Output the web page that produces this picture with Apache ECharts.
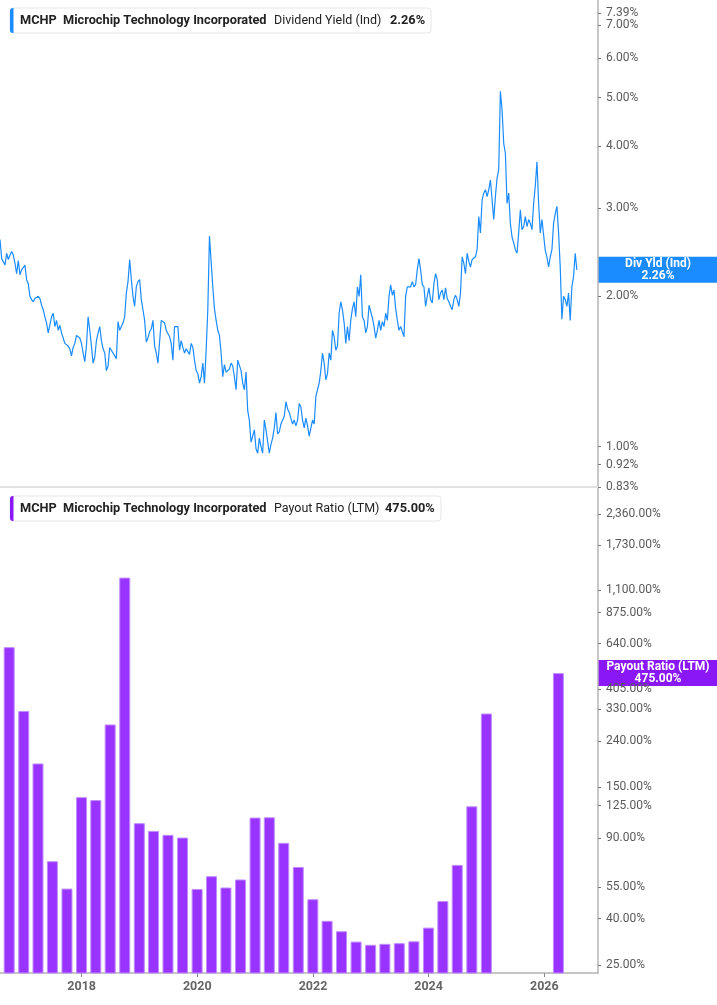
<!DOCTYPE html>
<html>
<head>
<meta charset="utf-8">
<script src="https://cdn.jsdelivr.net/npm/echarts@6/dist/echarts.min.js"></script>
<style>html,body{margin:0;padding:0;background:#fff}#chart{width:717px;height:1005px}</style>
</head>
<body>
<div id="chart"></div>
<script>
// dividend yield (%), one reading every 10.5 days from the start date
var yieldStart = '2016-08-03';
var yieldStepDays = 10.5;
var yieldValues = [
  2.60, 2.38, 2.37, 2.31, 2.44, 2.37, 2.42, 2.46, 2.42, 2.33,
  2.22, 2.36, 2.21, 2.26, 2.24, 2.31, 2.16, 2.12, 2.00, 1.97,
  1.95, 1.98, 1.97, 2.00, 1.98, 1.92, 1.88, 1.82, 1.77, 1.69,
  1.69, 1.82, 1.85, 1.74, 1.79, 1.71, 1.75, 1.69, 1.65, 1.61,
  1.62, 1.59, 1.57, 1.52, 1.58, 1.61, 1.67, 1.67, 1.65, 1.61,
  1.54, 1.48, 1.59, 1.82, 1.71, 1.59, 1.47, 1.51, 1.63, 1.69,
  1.74, 1.63, 1.57, 1.54, 1.42, 1.45, 1.58, 1.56, 1.56, 1.52,
  1.50, 1.78, 1.71, 1.74, 1.77, 1.82, 2.03, 2.14, 2.37, 2.16,
  2.00, 1.91, 2.09, 2.14, 2.16, 1.97, 1.88, 1.79, 1.62, 1.65,
  1.70, 1.72, 1.79, 1.59, 1.54, 1.47, 1.46, 1.79, 1.79, 1.77,
  1.71, 1.71, 1.66, 1.61, 1.49, 1.74, 1.73, 1.74, 1.56, 1.63,
  1.58, 1.54, 1.57, 1.55, 1.53, 1.61, 1.58, 1.49, 1.42, 1.40,
  1.34, 1.38, 1.47, 1.34, 1.56, 1.88, 2.64, 2.35, 2.09, 1.89,
  1.79, 1.71, 1.67, 1.54, 1.38, 1.46, 1.41, 1.40, 1.43, 1.47,
  1.45, 1.38, 1.30, 1.49, 1.50, 1.42, 1.34, 1.30, 1.41, 1.18,
  1.13, 1.02, 1.05, 1.08, 0.99, 0.97, 1.04, 1.00, 0.97, 1.13,
  1.08, 1.08, 0.97, 1.01, 1.04, 1.09, 1.17, 1.06, 1.07, 1.11,
  1.13, 1.15, 1.23, 1.19, 1.17, 1.18, 1.11, 1.13, 1.10, 1.13,
  1.22, 1.20, 1.13, 1.09, 1.14, 1.10, 1.05, 1.05, 1.13, 1.11,
  1.26, 1.30, 1.34, 1.42, 1.54, 1.47, 1.36, 1.40, 1.54, 1.49,
  1.71, 1.66, 1.56, 1.59, 1.85, 1.95, 1.88, 1.77, 1.61, 1.74,
  1.63, 1.79, 1.89, 1.95, 1.82, 2.09, 2.00, 2.21, 1.82, 1.79,
  1.69, 1.74, 1.92, 1.91, 1.81, 1.74, 1.65, 1.71, 1.79, 1.71,
  1.78, 1.74, 1.85, 1.79, 2.00, 2.11, 2.01, 2.06, 1.89, 1.79,
  1.71, 1.74, 1.70, 1.66, 2.00, 2.09, 2.09, 2.09, 2.14, 2.09,
  2.11, 2.26, 2.38, 2.26, 2.11, 2.09, 1.91, 2.00, 2.08, 1.97,
  1.94, 2.12, 2.22, 2.16, 1.97, 2.03, 2.06, 1.97, 2.08, 1.98,
  1.95, 1.91, 1.88, 1.97, 2.01, 1.97, 1.91, 2.03, 2.40, 2.33,
  2.22, 2.44, 2.35, 2.29, 2.37, 2.35, 2.40, 2.48, 2.89, 2.68,
  3.12, 3.22, 3.27, 3.17, 3.27, 3.42, 3.45, 2.85, 3.17, 3.45,
  3.59, 5.15, 4.73, 4.05, 3.87, 3.07, 3.22, 2.80, 2.63, 2.56,
  2.48, 2.44, 2.68, 2.98, 2.72, 2.76, 2.89, 2.76, 2.85, 2.80,
  2.72, 3.07, 3.33, 3.72, 3.07, 2.68, 2.85, 2.85, 2.47, 2.40,
  2.29, 2.40, 2.48, 2.80, 2.93, 3.03, 2.68, 2.29, 1.80, 2.00,
  1.97, 1.91, 2.03, 1.79, 2.09, 2.19, 2.44, 2.26
];

// payout ratio (LTM, %) per fiscal quarter end
var payoutDates = [
  '2016-09-30', '2016-12-31', '2017-03-31', '2017-06-30', '2017-09-30', '2017-12-31',
  '2018-03-31', '2018-06-30', '2018-09-30', '2018-12-31', '2019-03-31', '2019-06-30',
  '2019-09-30', '2019-12-31', '2020-03-31', '2020-06-30', '2020-09-30', '2020-12-31',
  '2021-03-31', '2021-06-30', '2021-09-30', '2021-12-31', '2022-03-31', '2022-06-30',
  '2022-09-30', '2022-12-31', '2023-03-31', '2023-06-30', '2023-09-30', '2023-12-31',
  '2024-03-31', '2024-06-30', '2024-09-30', '2024-12-31', '2025-03-31', '2025-06-30',
  '2025-09-30', '2025-12-31', '2026-03-31'
];
var payoutValues = [
  617, 324, 191, 71.3, 54.1, 136,
  132, 283, 1244, 104.6, 96.8, 93,
  90.5, 53.9, 61.3, 54.7, 59.3, 110.7,
  111, 85.8, 67.3, 48.6, 39.1, 35.2,
  31.7, 30.7, 31, 31.2, 31.8, 36.5,
  47.7, 68.7, 124, 316, null, null,
  null, null, 475
];

var yieldTicks = [0.83, 0.92, 1, 2, 3, 4, 5, 6, 7];
var yieldMaxTick = [7.39];
var payoutTicks = [25, 40, 55, 90, 125, 150, 240, 330, 405, 640, 875, 1100, 1730, 2360];
var yearTicks = ['2018-01-01', '2020-01-01', '2022-01-01', '2024-01-01', '2026-01-01'];
var lastYield = 2.26;
var lastPayout = 475;

var blue = '#1a8cff';
var purple = '#9933ff';
var purpleDark = '#8a17f5';
var DAY = 86400000;

function ts(s) { return Date.parse(s + 'T00:00:00Z'); }
var xMin = ts('2016-08-03');
var xMax = ts('2026-12-06');

var yieldData = yieldValues.map(function (v, k) {
  return [ts(yieldStart) + k * yieldStepDays * DAY, Math.log(v)];
});
var payoutData = [];
payoutDates.forEach(function (d, i) {
  if (payoutValues[i] != null) payoutData.push([ts(d), Math.log(payoutValues[i])]);
});

function pct(v) {
  var n = Math.round(Math.exp(v) * 100) / 100;
  return n.toLocaleString('en-US', {minimumFractionDigits: 2, maximumFractionDigits: 2}) + '%';
}
function logs(arr) { return arr.map(function (v) { return Math.log(v); }); }
var yearTs = yearTicks.map(ts);

var axisGray = '#b4b4b4';
var labelStyle = {color: '#5a5a5a', fontSize: 12, fontFamily: 'Roboto', margin: 8,
                  formatter: pct, showMinLabel: true, showMaxLabel: true, hideOverlap: false};

function yAxisLog(gridIndex, lo, hi, ticks, showLine) {
  return {type: 'value', gridIndex: gridIndex, position: 'right',
    min: Math.log(lo), max: Math.log(hi),
    axisLine: {show: showLine, onZero: false, lineStyle: {color: axisGray, width: 1.5}},
    axisTick: {show: true, customValues: logs(ticks), length: 3, lineStyle: {color: '#777'}},
    axisLabel: Object.assign({customValues: logs(ticks)}, labelStyle),
    splitLine: {show: false}};
}

var chart = echarts.init(document.getElementById('chart'));
chart.setOption({
  animation: false,
  grid: [
    {left: 0, right: 119, top: 13, height: 474},
    {left: 0, right: 119, top: 488, height: 485}
  ],
  xAxis: [
    {type: 'value', gridIndex: 0, min: xMin, max: xMax,
     axisLine: {onZero: false, lineStyle: {color: '#e2e2e2', width: 2}},
     axisTick: {show: false}, axisLabel: {show: false}, splitLine: {show: false}},
    {type: 'value', gridIndex: 1, min: xMin, max: xMax,
     axisLine: {onZero: false, lineStyle: {color: axisGray, width: 1.5}},
     axisTick: {customValues: yearTs, length: 4, lineStyle: {color: '#888'}},
     axisLabel: {customValues: yearTs, color: '#666', fontSize: 12.5, fontWeight: 'bold',
                 fontFamily: 'Roboto', margin: 7,
                 formatter: function (v) { return String(new Date(v).getUTCFullYear()); }},
     splitLine: {show: false}}
  ],
  yAxis: [
    yAxisLog(0, 0.83, 7.39, yieldTicks, true),
    yAxisLog(1, 23.1, 3070, payoutTicks, true),
    // extra overlay axis so the top 7.39% label is not dropped next to 7.00%
    yAxisLog(0, 0.83, 7.39, yieldMaxTick, false)
  ],
  series: [
    {type: 'line', xAxisIndex: 0, yAxisIndex: 0, data: yieldData, showSymbol: false,
     lineStyle: {color: blue, width: 1.2}, itemStyle: {color: blue}},
    {type: 'bar', xAxisIndex: 1, yAxisIndex: 1, data: payoutData, barWidth: 11, clip: true,
     itemStyle: {color: purple, borderColor: '#c08cff', borderWidth: 1}}
  ]
});

function legendBox(y, w, color, items) {
  var children = [
    {type: 'rect', shape: {x: 0, y: 0, width: w, height: 25, r: 3},
     style: {fill: '#fff', stroke: '#e6e6e6', lineWidth: 1}},
    {type: 'rect', shape: {x: 0, y: 0, width: 3.5, height: 25, r: [3, 0, 0, 3]}, style: {fill: color}}
  ];
  items.forEach(function (it) {
    children.push({type: 'text', x: it[0], y: 12.5,
      style: {text: it[1], fontFamily: 'Roboto', fontSize: it[2] === 'bold' ? 12.75 : 12.5,
              fontWeight: it[2], fill: '#222', verticalAlign: 'middle'}});
  });
  return {type: 'group', x: 10, y: y, children: children};
}

function valueTag(yAxisIndex, value, color, title, text) {
  var y = chart.convertToPixel({yAxisIndex: yAxisIndex}, Math.log(value));
  return {type: 'group', x: 598, y: y - 13, children: [
    {type: 'rect', shape: {x: 0, y: 0, width: 119, height: 26}, style: {fill: color}},
    {type: 'text', x: 60, y: 13,
     style: {text: title + '\n' + text, fontFamily: 'Roboto', fontSize: 12, fontWeight: 'bold',
             fill: '#fff', align: 'center', verticalAlign: 'middle', lineHeight: 12}}
  ]};
}

chart.setOption({
  graphic: [
    {type: 'line', shape: {x1: 598, y1: 0, x2: 598, y2: 13}, style: {stroke: axisGray, lineWidth: 1.5}},
    legendBox(8, 421, blue, [
      [10, 'MCHP', 'bold'], [53, 'Microchip Technology Incorporated', 'bold'],
      [264, 'Dividend Yield (Ind)', 'normal'], [380, lastYield.toFixed(2) + '%', 'bold']
    ]),
    legendBox(496, 431, purpleDark, [
      [10, 'MCHP', 'bold'], [53, 'Microchip Technology Incorporated', 'bold'],
      [264, 'Payout Ratio (LTM)', 'normal'], [375, lastPayout.toFixed(2) + '%', 'bold']
    ]),
    valueTag(0, lastYield, blue, 'Div Yld (Ind)', lastYield.toFixed(2) + '%'),
    valueTag(1, lastPayout, purpleDark, 'Payout Ratio (LTM)', lastPayout.toFixed(2) + '%')
  ]
});
</script>
</body>
</html>
